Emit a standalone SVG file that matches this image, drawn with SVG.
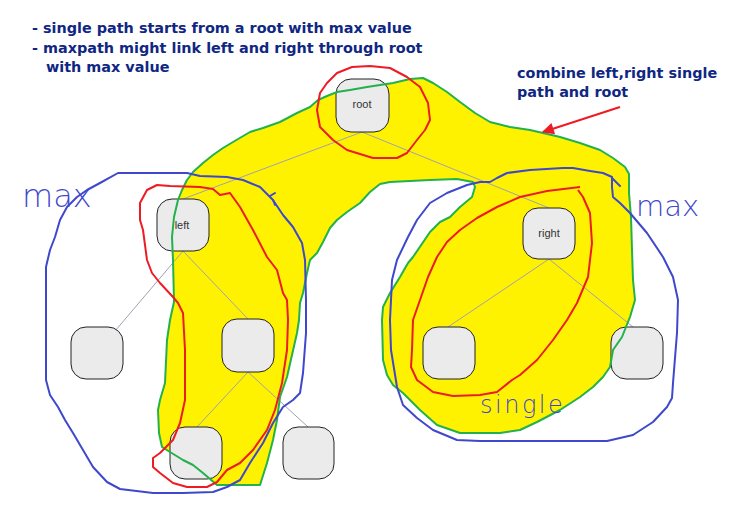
<svg xmlns="http://www.w3.org/2000/svg" width="734" height="516" viewBox="0 0 734 516">
<defs>
<style>
.edge{stroke:#a0a0b4;stroke-width:1;fill:none}
.node rect{fill:#ebebeb;stroke:#222;stroke-width:1}
.node text{font-family:"Liberation Sans",Arial,sans-serif;font-size:11px;fill:#333;text-anchor:middle}
.hl{fill:#fff200;stroke:none}
.green{fill:none;stroke:#22b14c;stroke-width:2;stroke-linejoin:round}
.red{fill:none;stroke:#ed1c24;stroke-width:2;stroke-linejoin:round}
.blue{fill:none;stroke:#3f48cc;stroke-width:2;stroke-linejoin:round;stroke-linecap:round}
.hand{font-family:"DejaVu Sans","Liberation Sans",sans-serif;fill:#3f48cc;font-weight:200}
.note{font-family:"DejaVu Sans",Verdana,sans-serif;font-weight:bold;font-size:14.4px;fill:#0f2783}
</style>
<marker id="arr" viewBox="0 0 10 10" refX="9" refY="5" markerWidth="14" markerHeight="12" markerUnits="userSpaceOnUse" orient="auto">
<path d="M0,0 L10,5 L0,10 Z" fill="#ed1c24"/>
</marker>
<path id="blob" d="M217,485 L203,473 L193,465 L183,460 L170,452 L162,447 L159,433 L158,410 L160,400 L165,383 L167,340 L170,320 L174,302 L173,260 L172,237 L174,217 L178,200 L182,190 L187,180 L193,172 L203,163 L213,155 L223,148 L233,142 L250,132 L263,128 L280,122 L297,113 L310,107 L318,100 L327,96 L337,92 L350,90 L367,87 L393,83 L410,79 L423,78 L433,83 L447,92 L460,102 L475,113 L490,122 L510,127 L530,130 L543,133 L560,137 L580,143 L600,150 L613,158 L625,167 L629,174 L629,193 L631,217 L632,250 L633,280 L635,300 L630,317 L622,337 L613,350 L610,367 L603,377 L593,387 L580,397 L560,410 L537,422 L520,430 L500,433 L460,433 L437,425 L420,410 L403,393 L393,385 L387,375 L383,360 L382,320 L383,307 L390,293 L400,277 L408,263 L413,257 L430,232 L440,222 L450,217 L460,207 L472,197 L475,187 L473,182 L457,179 L430,180 L410,181 L390,182 L380,184 L370,192 L360,203 L347,212 L337,220 L330,228 L323,242 L317,253 L310,260 L307,273 L303,293 L300,303 L299,320 L297,333 L292,355 L287,377 L280,397 L277,420 L273,440 L267,463 L260,485 Z"/>
</defs>
<rect width="734" height="516" fill="#fff"/>
<use href="#blob" class="hl"/>
<g id="connectors">
<line class="edge" x1="362" y1="132" x2="183" y2="199"/>
<line class="edge" x1="362" y1="132" x2="549" y2="208"/>
<line class="edge" x1="183" y1="251" x2="115" y2="331"/>
<line class="edge" x1="183" y1="251" x2="248" y2="319"/>
<line class="edge" x1="248" y1="372" x2="197" y2="427"/>
<line class="edge" x1="248" y1="372" x2="308" y2="427"/>
<line class="edge" x1="549" y1="259" x2="448" y2="327"/>
<line class="edge" x1="549" y1="259" x2="633" y2="327"/>
</g>
<g id="root" class="node"><rect x="336" y="79" width="53" height="53" rx="15"/><text x="362" y="108">root</text></g>
<g id="left" class="node"><rect x="157" y="199" width="52" height="52" rx="15"/><text x="182" y="229">left</text></g>
<g id="right" class="node"><rect x="523" y="208" width="52" height="51" rx="15"/><text x="549" y="237">right</text></g>
<g id="leaf-ll" class="node"><rect x="71" y="327" width="52" height="52" rx="15"/></g>
<g id="left-r" class="node"><rect x="222" y="319" width="52" height="53" rx="15"/></g>
<g id="leaf-lrl" class="node"><rect x="170" y="427" width="52" height="52" rx="15"/></g>
<g id="leaf-lrr" class="node"><rect x="283" y="427" width="51" height="52" rx="15"/></g>
<g id="leaf-rl" class="node"><rect x="423" y="327" width="52" height="52" rx="15"/></g>
<g id="leaf-rr" class="node"><rect x="611" y="327" width="52" height="52" rx="15"/></g>
<use href="#blob" class="green"/>
<g id="red-marks">
<path class="red" d="M352,67 L370,66 L390,68 L407,77 L420,87 L428,103 L430,120 L425,130 L417,140 L407,153 L397,158 L373,158 L347,150 L333,140 L320,127 L317,110 L320,93 L327,83 L337,73 Z"/>
<path class="red" d="M157,185 L170,186 L200,187 L213,189 L220,195 L230,193 L240,207 L253,230 L267,257 L277,270 L283,293 L287,300 L288,320 L287,350 L282,383 L275,410 L267,430 L253,450 L240,463 L227,470 L217,482 L207,487 L187,487 L173,483 L160,473 L153,467 L153,458 L160,453 L173,440 L180,423 L185,400 L185,350 L183,313 L178,303 L173,297 L160,283 L152,273 L147,260 L143,230 L140,220 L140,203 L147,190 Z"/>
<path class="red" d="M580,187 L547,191 L520,197 L497,207 L477,218 L460,230 L447,242 L437,257 L428,277 L420,300 L413,320 L412,350 L411,367 L417,380 L433,392 L453,396 L480,395 L497,392 L512,380 L520,375 L537,360 L553,340 L567,320 L577,303 L588,277 L592,243 L590,213 L583,197 L578,190"/>
</g>
<g id="blue-marks">
<path class="blue" d="M118,173 L187,173 L200,176 L227,177 L243,180 L260,187 L270,197 L273,200 L283,215 L293,227 L302,243 L305,260 L306,300 L306,333 L303,373 L300,393 L293,400 L283,407 L273,423 L263,443 L250,463 L240,480 L227,487 L213,492 L183,493 L153,493 L120,489 L107,482 L93,467 L83,450 L73,433 L65,420 L58,407 L50,395 L46,380 L46,300 L46,267 L50,250 L55,237 L60,220 L67,207 L77,197 L87,190 L100,183 Z"/>
<path class="blue" d="M270,196 L275,193 M273,200 L275,205"/>
<path class="blue" d="M408,237 L397,260 L392,280 L390,320 L391,350 L397,387 L403,405 L417,418 L433,430 L457,440 L480,441 L543,441 L607,441 L633,435 L653,422 L667,407 L672,398 L673,383 L677,333 L678,300 L673,277 L663,257 L647,233 L630,213 L620,203 L613,197 L612,187 L612,177 L603,173 L590,171 L573,168 L563,168 L530,170 L507,173 L497,178 L490,182 L480,182 L467,185 L447,193 L430,203 L417,220 Z"/>
<path class="blue" d="M612,178 L620,186"/>
</g>
<g id="handwriting">
<text class="hand" x="22" y="207" font-size="32">max</text>
<text class="hand" x="636" y="216" font-size="29">max</text>
<text class="hand" x="480" y="413" font-size="24" letter-spacing="2.5">single</text>
</g>
<line x1="620" y1="107" x2="543" y2="132" stroke="#ed1c24" stroke-width="2" marker-end="url(#arr)"/>
<g id="notes">
<text class="note" x="32" y="33">- single path starts from a root with max value</text>
<text class="note" x="32" y="53">- maxpath might link left and right through root</text>
<text class="note" x="46" y="72">with max value</text>
<text class="note" x="517" y="78">combine left,right single</text>
<text class="note" x="517" y="97">path and root</text>
</g>
</svg>
